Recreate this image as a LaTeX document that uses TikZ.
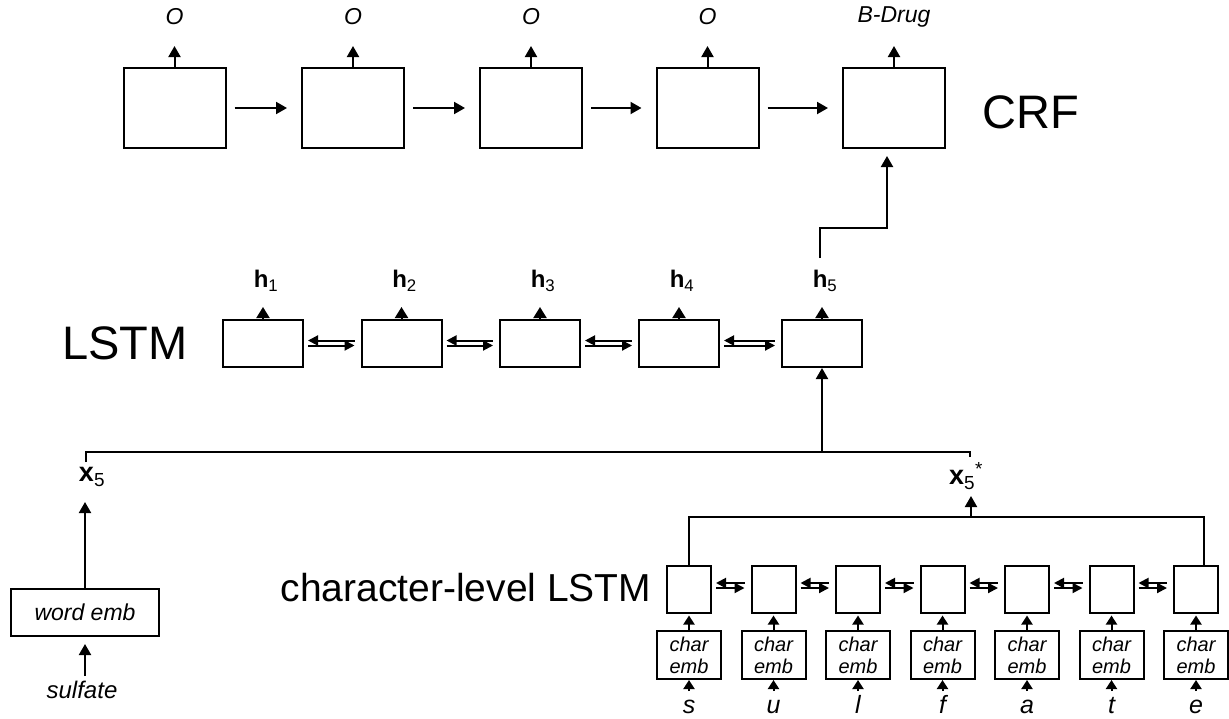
\documentclass[tikz,border=0pt]{standalone}
\usepackage{fontspec}
\setmainfont{Liberation Sans}
\usetikzlibrary{arrows.meta,calc}
\tikzset{
  crfbox/.style={draw,line width=2pt,minimum width=102pt,minimum height=80pt,inner sep=0pt},
  lbox/.style={draw,line width=2pt,minimum width=80pt,minimum height=47pt,inner sep=0pt},
  cbox/.style={draw,line width=2pt,minimum width=44pt,minimum height=47pt,inner sep=0pt},
  ebox/.style={draw,line width=2pt,minimum width=64pt,minimum height=48pt,inner sep=0pt,align=center,
     font=\fontsize{20}{22}\selectfont\itshape},
  wbox/.style={draw,line width=2pt,minimum width=148pt,minimum height=47pt,inner sep=0pt,
     font=\fontsize{23}{25}\selectfont\itshape},
  ln/.style={line width=2pt},
  arr/.style={line width=2pt,-{Triangle[length=11pt,width=12pt]}},
  tri/.style={line width=2pt,-{Triangle[length=11pt,width=13pt]}},
  stri/.style={line width=2pt,-{Triangle[length=9pt,width=11pt]}},
  dl/.style={line width=2pt,{Triangle[length=10pt,width=10pt]}-,shorten <=4pt,shorten >=6pt},
  dr/.style={line width=2pt,-{Triangle[length=10pt,width=10pt]},shorten <=4pt,shorten >=6pt},
  big/.style={inner sep=0pt,font=\fontsize{47}{50}\selectfont},
  mid/.style={inner sep=0pt,font=\fontsize{39}{42}\selectfont},
  olab/.style={inner sep=0pt,font=\fontsize{23}{26}\selectfont\itshape},
  hl/.style={inner sep=0pt,font=\fontsize{24}{26}\selectfont},
  xl/.style={inner sep=0pt,font=\fontsize{27}{29}\selectfont},
  itl/.style={inner sep=0pt,font=\fontsize{24}{26}\selectfont\itshape},
  ltr/.style={inner sep=0pt,anchor=base,font=\fontsize{25}{27}\selectfont\itshape},
}
\begin{document}
\begin{tikzpicture}[x=1pt,y=-1pt]
\useasboundingbox (0,0) rectangle (1229,718);
% ---------- CRF layer
\foreach \i/\x in {1/174.5,2/353,3/531,4/707.5,5/894}
  \node[crfbox] (c\i) at (\x,108) {};
\foreach \i in {1,...,4}
  \node[olab,yshift=50pt] (o\i) at (c\i.north) {O};
\node[olab,yshift=50pt] (o5) at (c5.north) {B-Drug};
\foreach \i in {1,...,5}
  \draw[arr] (c\i.north) -- ++(0,-21);
\foreach \i/\j in {1/2,2/3,3/4,4/5}
  \draw[arr,shorten <=8pt,shorten >=14pt] (c\i.east) -- (c\j.west);
\node[big] (crf) at (1031,112) {CRF};
% ---------- word-level LSTM
\foreach \i/\x in {1/263,2/401.5,3/540,4/679,5/822}{
  \node[lbox] (l\i) at (\x,343.5) {};
  \node[hl,yshift=38pt,xshift=3pt] (h\i) at (l\i.north) {\textbf{h}\textsubscript{\i}};
  \draw[tri] (l\i.north) -- ++(0,-12);
}
\foreach \i/\j in {1/2,2/3,3/4,4/5}{
  \draw[dl] ([yshift=3pt]l\i.east) -- ([yshift=3pt]l\j.west);
  \draw[dr] ([yshift=-2pt]l\i.east) -- ([yshift=-2pt]l\j.west);
}
\node[big] (lstm) at (125,343) {LSTM};
% h5 -> CRF
\coordinate (h5top) at (820,258);
\coordinate (turn) at (887,228);
\draw[arr] (h5top) |- (turn) -- ([yshift=-7pt]turn |- c5.south);
% ---------- concatenation line
\coordinate (jl) at (86,462);
\coordinate (jr) at (970,457);
\coordinate (jm) at (822,452);
\draw[ln] (jl) |- (jm) -| (jr);
\draw[arr] (jm) -- (l5.south);
% ---------- word embedding
\node[xl] (x5) at (92,477) {\textbf{x}\textsubscript{5}};
\node[wbox] (we) at (85,612.5) {word emb};
\draw[arr] (we.north) -- ++(0,-86);
\node[itl] (sul) at (82,690) {sulfate};
\draw[arr] ([yshift=-39pt]we.south) -- ([yshift=-7pt]we.south);
% ---------- character-level LSTM
\node[mid] (cl) at (466,588) {character-level LSTM};
\foreach \i/\x/\t in {1/689/s,2/773.5/u,3/858/l,4/942.5/f,5/1027/a,6/1111.5/t,7/1196/e}{
  \node[cbox] (k\i) at (\x,589) {};
  \node[ebox] (e\i) at (\x,655) {char\\emb};
  \node[ltr] (t\i) at (\x,713) {\t};
  \draw[stri,shorten >=2pt] (e\i.north) -- (k\i.south);
  \draw[stri] ([yshift=-11pt]e\i.south) -- (e\i.south);
}
\foreach \i/\j in {1/2,2/3,3/4,4/5,5/6,6/7}{
  \draw[dl] ([yshift=6pt]k\i.east) -- ([yshift=6pt]k\j.west);
  \draw[dr] ([yshift=1pt]k\i.east) -- ([yshift=1pt]k\j.west);
}
\coordinate (bm) at (971,517);
\draw[ln] (k1.north) |- (bm) -| ([xshift=8pt]k7.north);
\draw[arr] (bm) -- ++(0,-21);
\node[xl] (x5s) at (966,476) {\textbf{x}\textsubscript{5}\textsuperscript{*}};
\end{tikzpicture}
\end{document}
